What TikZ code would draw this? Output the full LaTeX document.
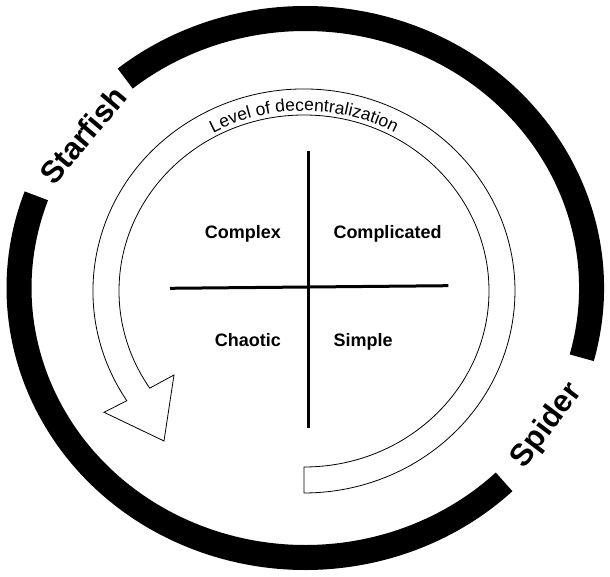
\documentclass[tikz,border=0pt]{standalone}
\usepackage{fontspec}
\setmainfont{Liberation Sans}
\usetikzlibrary{decorations.text}
\begin{document}
\begin{tikzpicture}[x=1pt,y=1pt,
  ring/.style={line width=25pt, line cap=butt},
  band/.style={draw=black, line width=0.8pt, fill=white, line join=miter},
  axisline/.style={line width=3pt},
  quad/.style={font=\fontsize{18}{18}\selectfont\bfseries, inner sep=0pt},
  big/.style={font=\fontsize{31}{31}\selectfont\bfseries, inner sep=0pt}]
\useasboundingbox (0,0) rectangle (610,576);
\fill[white] (0,0) rectangle (610,576);
% outer ring with two gaps
\draw[ring] (305.3,288) ++(-15:286.2 and 269.5) arc[start angle=-15, end angle=129, x radius=286.2, y radius=269.5];
\draw[ring] (305.3,288) ++(160:286.2 and 269.5) arc[start angle=160, end angle=314, x radius=286.2, y radius=269.5];
% hollow curved arrow
\draw[band] (304,109) arc[start angle=-90, end angle=213.5, x radius=185, y radius=176]
  -- (174,201) -- (164,135) -- (104,163.7) -- (126.8,175.3)
  arc[start angle=212.9, end angle=-90, x radius=211, y radius=202] -- cycle;
% curved label
\path[decorate, decoration={text along path, text align=center,
  text={|\fontsize{17.5}{17.5}\selectfont|Level of decentralization}}]
  (140.3,375) arc[start angle=150, end angle=30, x radius=189, y radius=180];
% ring labels
\node[big, rotate=50, anchor=base] (starfish) at (91.2,434) {Starfish};
\node[big, rotate=53, anchor=base] (spider) at (553.4,145.4) {Spider};
% cross
\coordinate (vtop) at (308,425);
\coordinate (vbot) at (308,147.7);
\coordinate (hl) at (170,287.7);
\coordinate (hr) at (448.3,290.3);
\draw[axisline] (vtop) -- (vbot);
\draw[axisline] (hl) -- (hr);
% quadrant labels
\node[quad, anchor=base east] (complex) at (281,337) {Complex};
\node[quad, anchor=base west] (complicated) at (333.3,337) {Complicated};
\node[quad, anchor=base east] (chaotic) at (281,229.5) {Chaotic};
\node[quad, anchor=base west] (simple) at (333.3,229.5) {Simple};
\end{tikzpicture}
\end{document}
